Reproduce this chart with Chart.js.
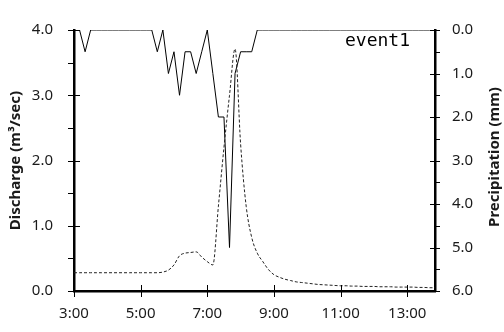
<!DOCTYPE html>
<html>
<head>
<meta charset="utf-8">
<script src="https://cdn.jsdelivr.net/npm/chart.js@4.4.1/dist/chart.umd.min.js"></script>
<style>
  html, body { margin: 0; padding: 0; background: #fff; }
  #wrap { width: 504px; height: 332px; }
</style>
</head>
<body>
<div id="wrap"><canvas id="hydro"></canvas></div>
<script>
// 10 minute steps, 3:00 - 13:50
const times = [
  "3:00", "3:10", "3:20", "3:30", "3:40", "3:50",
  "4:00", "4:10", "4:20", "4:30", "4:40", "4:50",
  "5:00", "5:10", "5:20", "5:30", "5:40", "5:50",
  "6:00", "6:10", "6:20", "6:30", "6:40", "6:50",
  "7:00", "7:10", "7:20", "7:30", "7:40", "7:50",
  "8:00", "8:10", "8:20", "8:30", "8:40", "8:50",
  "9:00", "9:10", "9:20", "9:30", "9:40", "9:50",
  "10:00", "10:10", "10:20", "10:30", "10:40", "10:50",
  "11:00", "11:10", "11:20", "11:30", "11:40", "11:50",
  "12:00", "12:10", "12:20", "12:30", "12:40", "12:50",
  "13:00", "13:10", "13:20", "13:30", "13:40", "13:50"
];
// m3/sec
const discharge = [
  0.28, 0.28, 0.28, 0.28, 0.28, 0.28,
  0.28, 0.28, 0.28, 0.28, 0.28, 0.28,
  0.28, 0.28, 0.28, 0.28, 0.29, 0.32,
  0.40, 0.54, 0.58, 0.59, 0.60, 0.52,
  0.45, 0.40, 1.30, 2.20, 3.00, 3.71,
  2.25, 1.30, 0.82, 0.58, 0.45, 0.33,
  0.25, 0.21, 0.18, 0.16, 0.14, 0.13,
  0.12, 0.11, 0.10, 0.095, 0.09, 0.085,
  0.08, 0.08, 0.075, 0.075, 0.07, 0.07,
  0.07, 0.065, 0.065, 0.065, 0.06, 0.06,
  0.06, 0.06, 0.055, 0.055, 0.05, 0.05
];
// mm per 10 min
const precipitation = [
  0, 0, 0.5, 0, 0, 0,
  0, 0, 0, 0, 0, 0,
  0, 0, 0, 0.5, 0, 1.0,
  0.5, 1.5, 0.5, 0.5, 1.0, 0.5,
  0, 1.0, 2.0, 2.0, 5.0, 1.0,
  0.5, 0.5, 0.5, 0, 0, 0,
  0, 0, 0, 0, 0, 0,
  0, 0, 0, 0, 0, 0,
  0, 0, 0, 0, 0, 0,
  0, 0, 0, 0, 0, 0,
  0, 0, 0, 0, 0, 0
];
const hourTicks = [3, 5, 7, 9, 11, 13];
const dischargeTicks = [0, 1, 2, 3, 4];
const rainTicks = [0, 1, 2, 3, 4, 5, 6];
const eventName = "event1";

const toHours = t => {
  const [h, m] = t.split(":").map(Number);
  return h + m / 60;
};
const tickFont = { family: "'Noto Sans'", size: 15 };
const titleFont = { family: "'Noto Sans'", size: 15, weight: "bold" };

/*
  @desc: tick marks (major ones cross the axis), right title and the event name
*/
const extras = {
  id: "extras",
  afterDraw(chart) {
    const ctx = chart.ctx, a = chart.chartArea;
    const x = chart.scales.x, yl = chart.scales.y, yr = chart.scales.y2;
    ctx.save();
    ctx.strokeStyle = "#000";
    ctx.lineWidth = 1;
    ctx.beginPath();
    for (let v = 0; v <= 4; v += 0.5) {
      const p = Math.round(yl.getPixelForValue(v)) + 0.5;
      ctx.moveTo(a.left - 6, p);
      ctx.lineTo(v % 1 === 0 ? a.left + 6 : a.left, p);
    }
    for (let v = 0; v <= 6; v += 0.5) {
      const p = Math.round(yr.getPixelForValue(v)) + 0.5;
      ctx.moveTo(v % 1 === 0 ? a.right - 5 : a.right, p);
      ctx.lineTo(a.right + 5, p);
    }
    for (const h of hourTicks) {
      const p = Math.round(x.getPixelForValue(h)) + 0.5;
      ctx.moveTo(p, a.bottom - 6);
      ctx.lineTo(p, a.bottom + 6);
    }
    ctx.stroke();

    ctx.fillStyle = "#1a1a1a";
    ctx.font = "bold 15px 'Noto Sans'";
    ctx.textAlign = "center";
    ctx.textBaseline = "middle";
    ctx.translate(495, 157);
    ctx.rotate(-Math.PI / 2);
    ctx.fillText("Precipitation (mm)", 0, 0);
    ctx.restore();

    ctx.save();
    ctx.fillStyle = "#000";
    ctx.font = "18px 'DejaVu Sans Mono'";
    ctx.textAlign = "left";
    ctx.textBaseline = "alphabetic";
    ctx.fillText(eventName, 345, 46);
    ctx.restore();
  }
};

new Chart(document.getElementById("hydro"), {
  type: "line",
  data: {
    datasets: [
      {
        label: "Discharge",
        yAxisID: "y",
        data: times.map((t, i) => ({ x: toHours(t), y: discharge[i] })),
        borderColor: "#222",
        borderWidth: 1,
        borderDash: [3, 2],
        pointRadius: 0,
        cubicInterpolationMode: "monotone",
      },
      {
        label: "Precipitation",
        yAxisID: "y2",
        data: times.map((t, i) => ({ x: toHours(t), y: precipitation[i] })),
        borderColor: "#000",
        borderWidth: 1,
        pointRadius: 0,
        tension: 0,
      },
    ],
  },
  options: {
    responsive: true,
    maintainAspectRatio: false,
    animation: false,
    layout: { padding: { top: 16, left: 0, right: 0, bottom: 0 } },
    plugins: { legend: { display: false }, tooltip: { enabled: false } },
    scales: {
      x: {
        type: "linear",
        min: 3,
        max: 13 + 50 / 60,
        afterBuildTicks: s => { s.ticks = hourTicks.map(v => ({ value: v })); },
        afterFit: s => { s.height = 41; },
        ticks: { callback: v => v + ":00", font: tickFont, color: "#1a1a1a", padding: 14, maxRotation: 0, autoSkip: false },
        grid: { display: false, drawTicks: false },
        border: { color: "#000", width: 2.5 },
      },
      y: {
        position: "left",
        min: 0,
        max: 4,
        afterBuildTicks: s => { s.ticks = dischargeTicks.map(v => ({ value: v })); },
        afterFit: s => { s.width = 74; },
        ticks: { callback: v => v.toFixed(1), font: tickFont, color: "#1a1a1a", padding: 21 },
        grid: { display: false, drawTicks: false },
        border: { color: "#000", width: 2.5 },
        title: { display: true, text: "Discharge (m³/sec)", font: titleFont, color: "#1a1a1a", padding: { top: 6.5, bottom: 0 } },
      },
      y2: {
        position: "right",
        reverse: true,
        min: 0,
        max: 6,
        afterBuildTicks: s => { s.ticks = rainTicks.map(v => ({ value: v })); },
        afterFit: s => { s.width = 69; },
        ticks: { callback: v => v.toFixed(1), font: tickFont, color: "#1a1a1a", padding: 17 },
        grid: { display: false, drawTicks: false },
        border: { color: "#000", width: 2.5 },
      },
    },
  },
  plugins: [extras],
});
</script>
</body>
</html>
